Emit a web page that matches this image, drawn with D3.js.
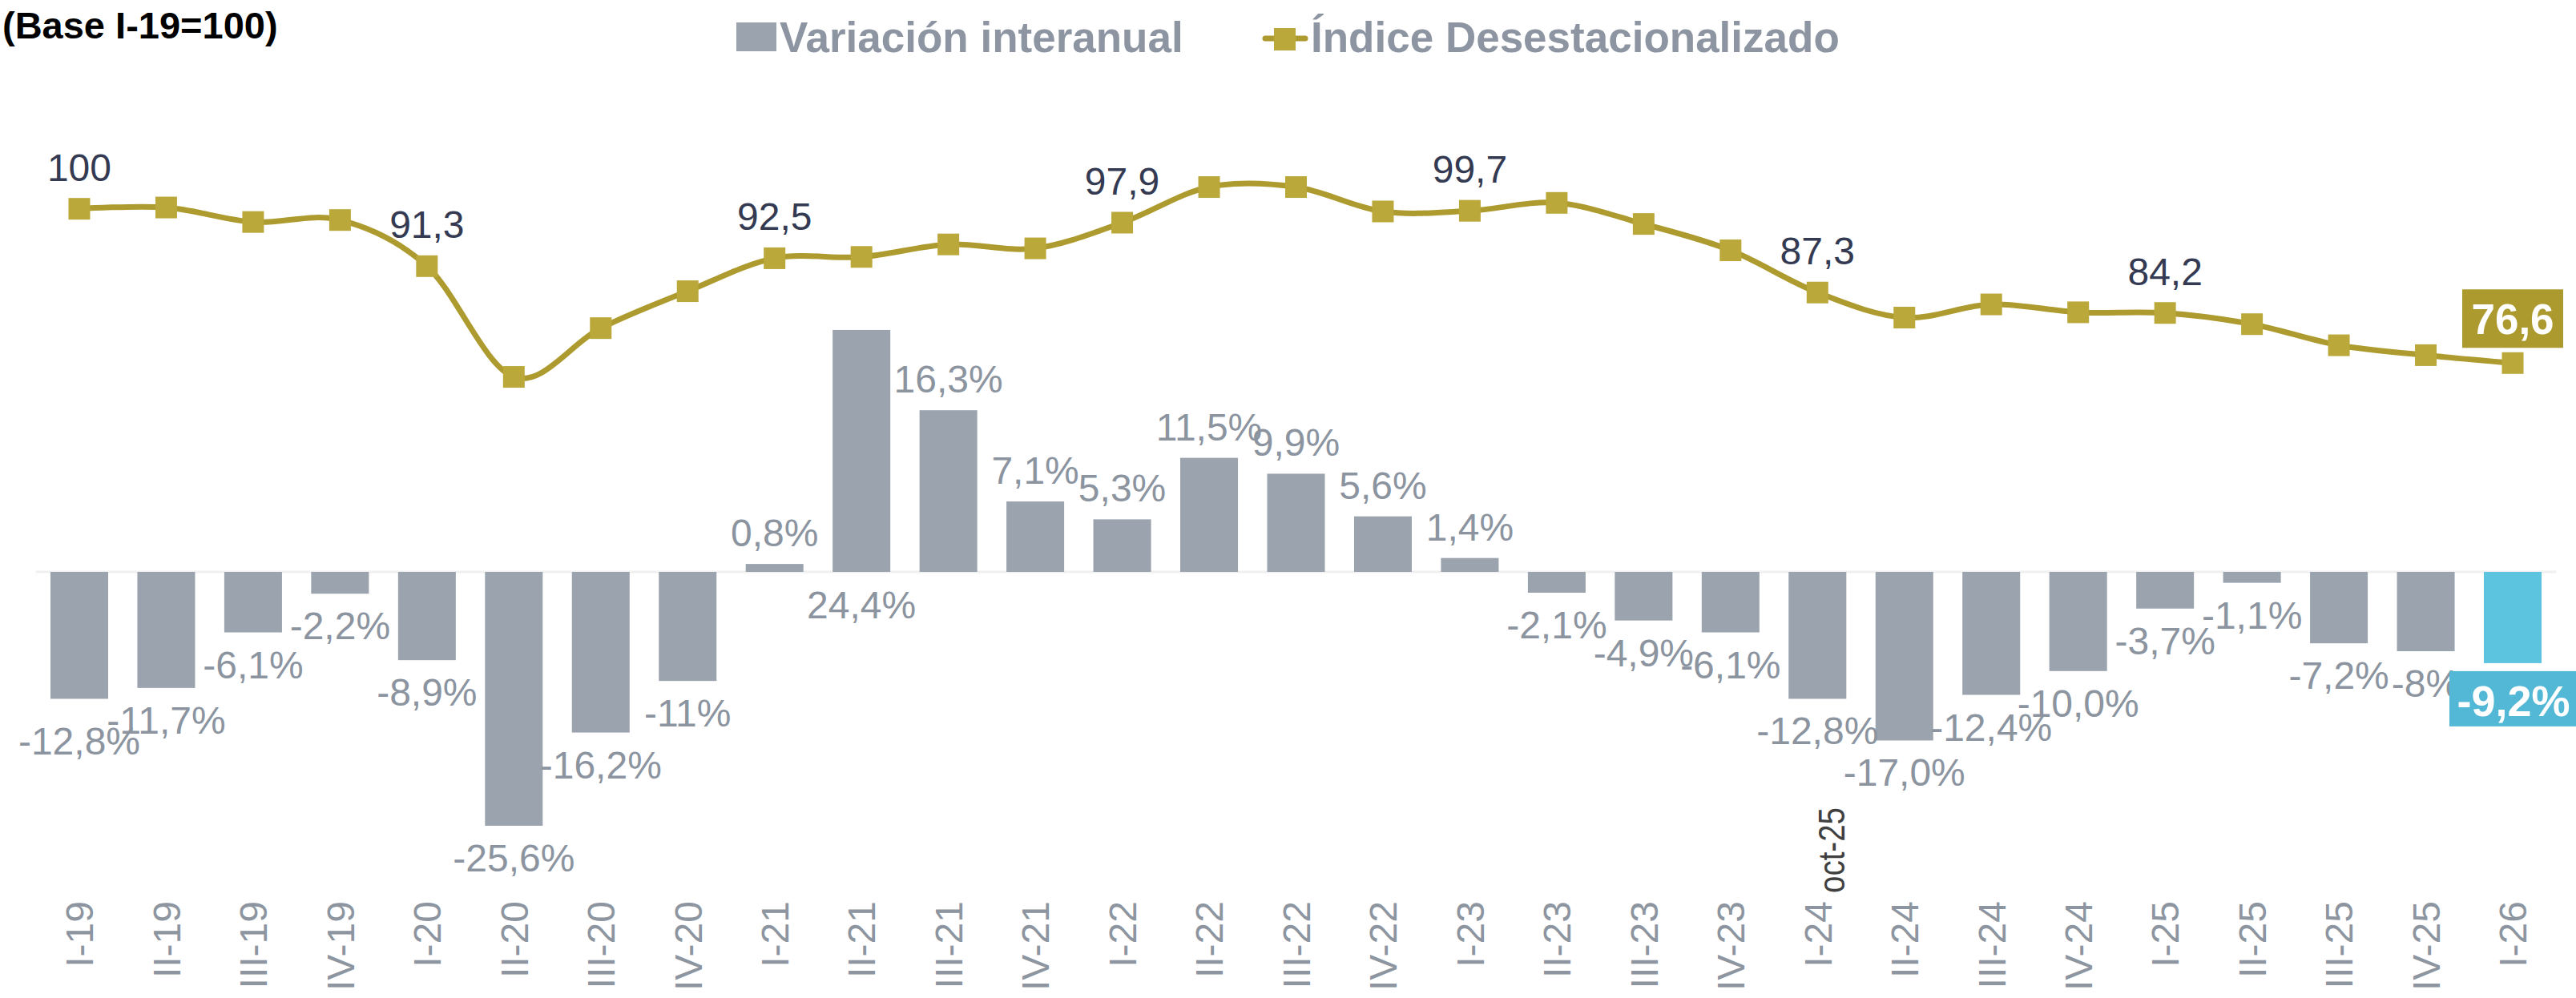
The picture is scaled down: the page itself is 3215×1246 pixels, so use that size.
<!DOCTYPE html>
<html>
<head>
<meta charset="utf-8">
<script src="https://cdn.jsdelivr.net/npm/d3@7"></script>
<style>
  html, body { margin: 0; padding: 0; background: #ffffff; }
  svg { display: block; font-family: "Liberation Sans", Arial, sans-serif; }
</style>
</head>
<body>
<svg id="chart" width="3215" height="1246"></svg>
<script>
// ---------------- DATA ----------------
const categories = ["I-19","II-19","III-19","IV-19","I-20","II-20","III-20","IV-20","I-21","II-21","III-21","IV-21","I-22","II-22","III-22","IV-22","I-23","II-23","III-23","IV-23","I-24","II-24","III-24","IV-24","I-25","II-25","III-25","IV-25","I-26"];
const variacion = [-12.8,-11.7,-6.1,-2.2,-8.9,-25.6,-16.2,-11.0,0.8,24.4,16.3,7.1,5.3,11.5,9.9,5.6,1.4,-2.1,-4.9,-6.1,-12.8,-17.0,-12.4,-10.0,-3.7,-1.1,-7.2,-8.0,-9.2];
const variacionLabels = ["-12,8%","-11,7%","-6,1%","-2,2%","-8,9%","-25,6%","-16,2%","-11%","0,8%","24,4%","16,3%","7,1%","5,3%","11,5%","9,9%","5,6%","1,4%","-2,1%","-4,9%","-6,1%","-12,8%","-17,0%","-12,4%","-10,0%","-3,7%","-1,1%","-7,2%","-8%","-9,2%"];
const indice = [100.0,100.2,98.0,98.3,91.3,74.5,81.9,87.5,92.5,92.7,94.6,94.0,97.9,103.3,103.3,99.6,99.7,100.9,97.7,93.7,87.3,83.5,85.5,84.3,84.2,82.5,79.3,77.8,76.6];
const indiceLabels = ["100",null,null,null,"91,3",null,null,null,"92,5",null,null,null,"97,9",null,null,null,"99,7",null,null,null,"87,3",null,null,null,"84,2",null,null,null,"76,6"];
const titleText = "(Base I-19=100)";
const legendBars = "Variación interanual";
const legendLine = "Índice Desestacionalizado";
const annotationCategory = "I-24";
const annotationText = "oct-25";

// ---------------- STYLE ----------------
const barColor = "#9aa3ae";
const highlightBar = "#5cc4df";
const highlightBox = "#52b8d6";
const lineColor = "#ae9b2f";
const markerColor = "#bba83a";
const boxGold = "#ad9a2f";
const barLabelColor = "#8b949f";
const lineLabelColor = "#343a52";
const legendColor = "#8c95a1";

const svg = d3.select("#chart");

// scales
const x = d3.scaleBand().domain(categories).range([44.75, 3190.25]).paddingInner(0.336).paddingOuter(0.168);
const yBar = d3.scaleLinear().domain([-30, 30]).range([714 + 30 * 12.38, 714 - 30 * 12.38]);
const yLine = d3.scaleLinear().domain([70, 105]).range([260.7 + 30 * 8.23, 260.7 - 5 * 8.23]);
const cx = c => x(c) + x.bandwidth() / 2;
const last = categories.length - 1;
const maxIdx = variacion.indexOf(d3.max(variacion));

const barData = variacion.map((v, i) => ({ v, i, cat: categories[i], label: variacionLabels[i] }));
const lineData = indice.map((v, i) => ({ v, i, cat: categories[i], label: indiceLabels[i] }));

// zero line
svg.append("line")
  .attr("x1", x.range()[0]).attr("x2", x.range()[1])
  .attr("y1", yBar(0)).attr("y2", yBar(0))
  .attr("stroke", "#f0f0f0").attr("stroke-width", 3);

// bars
svg.append("g").selectAll("rect").data(barData).join("rect")
  .attr("x", d => x(d.cat))
  .attr("width", x.bandwidth())
  .attr("y", d => Math.min(yBar(d.v), yBar(0)))
  .attr("height", d => Math.abs(yBar(d.v) - yBar(0)))
  .attr("fill", d => d.i === last ? highlightBar : barColor);

// bar labels
svg.append("g").selectAll("text").data(barData.filter(d => d.i !== last)).join("text")
  .attr("x", d => cx(d.cat))
  .attr("y", d => {
    if (d.i === maxIdx) return yBar(0) + 58;
    if (d.i === 0) return yBar(d.v) + 70;
    return d.v < 0 ? yBar(d.v) + 57 : yBar(d.v) - 22;
  })
  .attr("text-anchor", "middle")
  .attr("font-size", 48)
  .attr("fill", barLabelColor)
  .text(d => d.label);

// highlighted last bar label
{
  const d = barData[last];
  const c = cx(d.cat);
  const top = yBar(d.v) + 10;
  svg.append("rect").attr("x", c - 79).attr("y", top).attr("width", 170).attr("height", 69).attr("fill", highlightBox);
  svg.append("text").attr("x", c + 1).attr("y", top + 56).attr("text-anchor", "middle")
    .attr("font-size", 54).attr("font-weight", "bold").attr("fill", "#ffffff").text(d.label);
}

// line
const line = d3.line()
  .x(d => cx(d.cat))
  .y(d => yLine(d.v))
  .curve(d3.curveCardinal.tension(0));
svg.append("path").datum(lineData)
  .attr("d", line).attr("fill", "none")
  .attr("stroke", lineColor).attr("stroke-width", 7).attr("stroke-linejoin", "round");

// markers
svg.append("g").selectAll("rect").data(lineData).join("rect")
  .attr("x", d => cx(d.cat) - 13.5)
  .attr("y", d => yLine(d.v) - 13.5)
  .attr("width", 27).attr("height", 27)
  .attr("fill", markerColor);

// line labels
svg.append("g").selectAll("text").data(lineData.filter(d => d.label !== null && d.i !== last)).join("text")
  .attr("x", d => cx(d.cat))
  .attr("y", d => yLine(d.v) - 35)
  .attr("text-anchor", "middle")
  .attr("font-size", 48)
  .attr("fill", lineLabelColor)
  .text(d => d.label);

// highlighted last line label
{
  const d = lineData[last];
  const c = cx(d.cat);
  const bottom = yLine(d.v) - 19;
  svg.append("rect").attr("x", c - 63).attr("y", bottom - 73).attr("width", 126).attr("height", 73).attr("fill", boxGold);
  svg.append("text").attr("x", c).attr("y", bottom - 17).attr("text-anchor", "middle")
    .attr("font-size", 53).attr("font-weight", "bold").attr("fill", "#ffffff").text(d.label);
}

// x axis
const xAxis = d3.axisBottom(x).tickSize(0).tickPadding(0);
const gx = svg.append("g").attr("transform", "translate(0,1125)").call(xAxis);
gx.select(".domain").remove();
gx.selectAll("text")
  .attr("transform", "rotate(-90)")
  .attr("x", 0).attr("y", 0).attr("dy", "0.36em")
  .attr("text-anchor", "end")
  .attr("font-size", 48)
  .attr("font-family", "'Liberation Sans', Arial, sans-serif")
  .attr("fill", "#8c95a0");

// annotation "oct-25"
{
  const ax = cx(annotationCategory) + 34;
  svg.append("text")
    .attr("transform", `translate(${ax},1115) rotate(-90)`)
    .attr("text-anchor", "start")
    .attr("font-size", 46)
    .attr("textLength", 107)
    .attr("lengthAdjust", "spacingAndGlyphs")
    .attr("fill", "#404040")
    .text(annotationText);
}

// title
svg.append("text").attr("x", 3).attr("y", 48)
  .attr("font-size", 47).attr("font-weight", "bold").attr("fill", "#000000")
  .text(titleText);

// legend
const lg = svg.append("g");
lg.append("rect").attr("x", 919).attr("y", 28).attr("width", 50).attr("height", 36).attr("fill", barColor);
lg.append("text").attr("x", 973).attr("y", 65).attr("font-size", 53).attr("font-weight", "bold")
  .attr("fill", legendColor).text(legendBars);
lg.append("line").attr("x1", 1579).attr("x2", 1629).attr("y1", 48).attr("y2", 48)
  .attr("stroke", lineColor).attr("stroke-width", 7).attr("stroke-linecap", "round");
lg.append("rect").attr("x", 1590).attr("y", 35).attr("width", 27).attr("height", 28).attr("fill", markerColor);
lg.append("text").attr("x", 1636).attr("y", 65).attr("font-size", 53).attr("font-weight", "bold")
  .attr("fill", legendColor).text(legendLine);
</script>
</body>
</html>
